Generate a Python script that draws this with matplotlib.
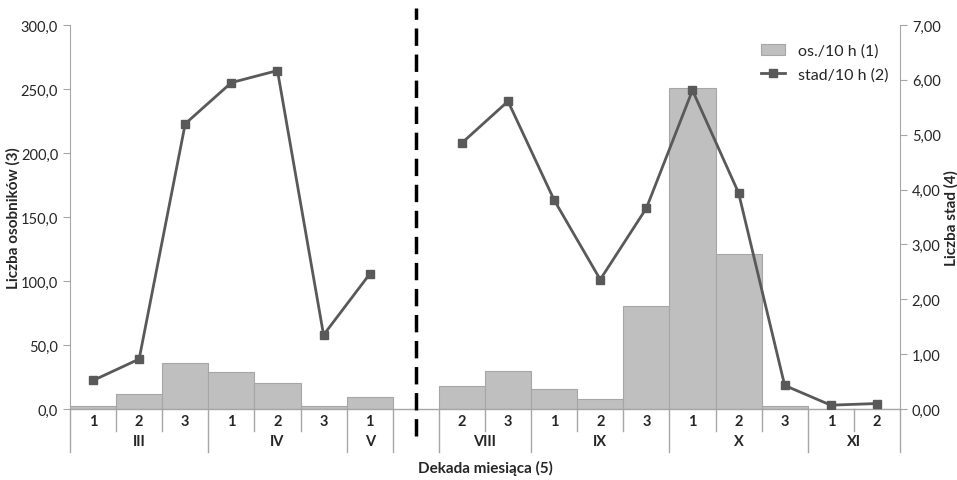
import numpy as np
import matplotlib
matplotlib.use('Agg')
import matplotlib.pyplot as plt
from matplotlib.ticker import FuncFormatter

plt.rcParams['font.family'] = ['Lato', 'DejaVu Sans']

# decade of month for each slot ('' = empty slot between seasons)
decades = ['1', '2', '3', '1', '2', '3', '1', '', '2', '3', '1', '2', '3', '1', '2', '3', '1', '2']
months = ['III', 'III', 'III', 'IV', 'IV', 'IV', 'V', '', 'VIII', 'VIII',
          'IX', 'IX', 'IX', 'X', 'X', 'X', 'XI', 'XI']

# os./10 h (left axis)
individuals = [2.1, 12.0, 35.7, 28.6, 20.5, 2.0, 9.1, np.nan, 17.7, 29.7,
               15.6, 7.6, 80.2, 250.5, 120.8, 2.1, 0.0, 0.0]
# stad/10 h (right axis)
flocks = [0.52, 0.91, 5.20, 5.95, 6.17, 1.35, 2.46, np.nan, 4.85, 5.61,
          3.81, 2.36, 3.66, 5.81, 3.94, 0.43, 0.07, 0.10]

grey = '#a6a6a6'
txt = '#262626'

fig = plt.figure(figsize=(9.57, 4.81), dpi=100)
ax = fig.add_axes([0.0731, 0.1476, 0.8673, 0.7983])
x = np.arange(len(decades))

ax.bar(x, individuals, width=1.0, color='#bfbfbf', edgecolor=grey, linewidth=0.8,
       label='os./10 h (1)', zorder=2)
ax.set_xlim(-0.5, len(decades) - 0.5)
ax.set_ylim(0, 300)
ax.set_yticks(np.arange(0, 301, 50))
ax.yaxis.set_major_formatter(FuncFormatter(lambda v, p: f'{v:.1f}'.replace('.', ',')))
ax.set_xticks([])
for s in ['top', 'right', 'bottom']:
    ax.spines[s].set_visible(False)
ax.spines['left'].set_color(grey)
ax.tick_params(axis='y', colors=grey, labelcolor=txt, labelsize=10.5, length=5, direction='out')
ax.set_ylabel('Liczba osobników (3)', fontsize=11, fontweight='bold', color=txt)
ax.yaxis.set_label_coords(-0.059, 0.5)

ax2 = ax.twinx()
ax2.plot(x, flocks, color='#595959', lw=2, marker='s', markersize=5.5,
         label='stad/10 h (2)', zorder=3)
ax2.set_ylim(0, 7)
ax2.set_yticks(np.arange(0, 7.01, 1))
ax2.yaxis.set_major_formatter(FuncFormatter(lambda v, p: f'{v:.2f}'.replace('.', ',')))
for s in ['top', 'left', 'bottom']:
    ax2.spines[s].set_visible(False)
ax2.spines['right'].set_color(grey)
ax2.tick_params(axis='y', colors=grey, labelcolor=txt, labelsize=10.5, length=5, direction='out')
ax2.set_ylabel('Liczba stad (4)', fontsize=11, fontweight='bold', color=txt)
ax2.yaxis.set_label_coords(1.053, 0.5)

# category axis (two levels)
tr = ax.get_xaxis_transform()
ax.plot([-0.5, len(decades) - 0.5], [0, 0], transform=tr, color=grey, lw=1, clip_on=False, zorder=4)
for i, d in enumerate(decades):
    ax.text(i, -0.03, d, transform=tr, ha='center', va='center', fontsize=10.5,
            fontweight='bold', color=txt)

# group consecutive months
groups = []
start = 0
for i in range(1, len(months) + 1):
    if i == len(months) or months[i] != months[start]:
        groups.append((months[start], start, i - 1))
        start = i
bounds = set()
for name, a, b in groups:
    bounds.add(a - 0.5)
    bounds.add(b + 0.5)
    if name:
        ax.text((a + b) / 2, -0.084, name, transform=tr, ha='center', va='center',
                fontsize=10.5, fontweight='bold', color=txt)
for i in range(len(decades) + 1):
    xb = i - 0.5
    low = -0.112 if xb in bounds else -0.057
    ax.plot([xb, xb], [0, low], transform=tr, color=grey, lw=1, clip_on=False)

# season separator
gap = decades.index('')
ax.plot([gap, gap], [-0.07, 1.044], transform=tr, color='black', lw=2.5,
        dashes=(5, 2.5), clip_on=False, zorder=5)

ax.set_xlabel('Dekada miesiąca (5)', fontsize=11, fontweight='bold', color=txt, labelpad=37)

h1, l1 = ax.get_legend_handles_labels()
h2, l2 = ax2.get_legend_handles_labels()
ax2.legend(h1 + h2, l1 + l2, loc='upper left', bbox_to_anchor=(0.833, 0.952), frameon=False,
           fontsize=11.5, handlelength=1.45, handletextpad=0.85, labelspacing=0.6,
           borderpad=0, borderaxespad=0, numpoints=1, labelcolor=txt)

fig.savefig('out.png', dpi=100)
